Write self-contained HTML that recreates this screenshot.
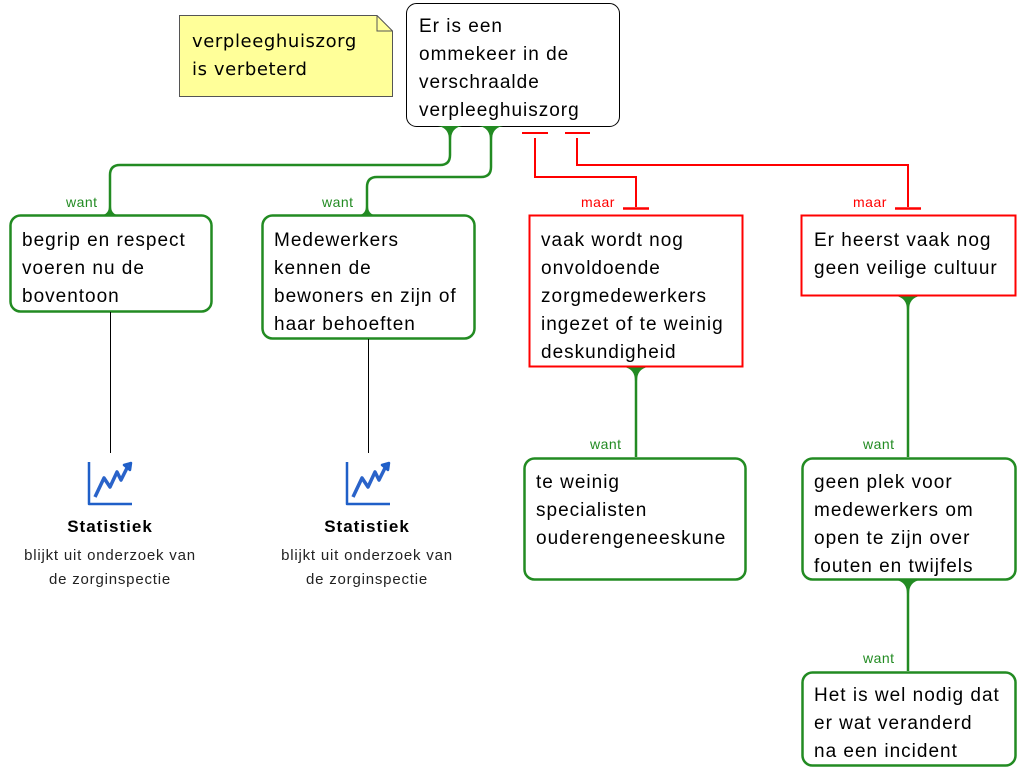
<!DOCTYPE html>
<html><head><meta charset="utf-8"><style>body{margin:0;background:#fff}</style></head><body>
<svg width="1024" height="768" xmlns="http://www.w3.org/2000/svg" font-family="Liberation Sans, sans-serif">
<rect width="1024" height="768" fill="#fff"/>
<!-- note -->
<path d="M179.5 15.5 H377 L392.5 31 V96.5 H179.5 Z" fill="#ffff99" stroke="#555" stroke-width="1"/>
<path d="M377 15.5 V31 H392.5" fill="none" stroke="#555"/>
<text font-family="Comic Sans MS, DejaVu Sans, sans-serif" font-size="18" letter-spacing="0.6" fill="#000"><tspan x="192" y="47">verpleeghuiszorg</tspan><tspan x="192" y="75">is verbeterd</tspan></text>
<!-- top box -->
<rect x="406.5" y="3.5" width="213" height="123" rx="10" fill="#fff" stroke="#000" stroke-width="1"/>
<g font-size="19" letter-spacing="1">
<text><tspan x="419" y="32">Er is een</tspan><tspan x="419" y="60">ommekeer in de</tspan><tspan x="419" y="88">verschraalde</tspan><tspan x="419" y="116">verpleeghuiszorg</tspan></text>
</g>
<!-- green connectors -->
<g fill="none" stroke="#228b22" stroke-width="2.5">
<path d="M450 128 V155 Q450 165 440 165 H120 Q110 165 110 175 V214"/>
<path d="M491 128 V167 Q491 177 481 177 H377 Q367 177 367 187 V214"/>
<path d="M636 368 V457"/>
<path d="M908 297 V457"/>
<path d="M908 581 V671"/>
</g>
<g fill="#228b22">
<path d="M438 126 H462 Q451 128 451 140 H449 Q449 128 438 126Z"/>
<path d="M479 126 H503 Q492 128 492 140 H490 Q490 128 479 126Z"/>
<path d="M624 367 H648 Q637 369 637 381 H635 Q635 369 624 367Z"/>
<path d="M896 296 H920 Q909 298 909 310 H907 Q907 298 896 296Z"/>
<path d="M896 580 H920 Q909 582 909 594 H907 Q907 582 896 580Z"/>
<path d="M103 215 H117 Q111 213 111 206 H109 Q109 213 103 215Z"/>
<path d="M360 215 H374 Q368 213 368 206 H366 Q366 213 360 215Z"/>
</g>
<!-- red connectors -->
<g fill="none" stroke="#f00" stroke-width="2">
<path d="M522 133 H548 M565 133 H590"/>
<path d="M535 138 V177 H636 V207"/>
<path d="M577 138 V165 H908 V207"/>
<path d="M623 208.5 H649 M895 208.5 H921" stroke-width="2.5"/>
</g>
<g font-size="14" letter-spacing="0.5"><text x="66" y="207" fill="#228b22">want</text><text x="322" y="207" fill="#228b22">want</text>
<text x="581" y="207" fill="#f00">maar</text><text x="853" y="207" fill="#f00">maar</text>
<text x="590" y="449" fill="#228b22">want</text><text x="863" y="449" fill="#228b22">want</text><text x="863" y="663" fill="#228b22">want</text></g>
<!-- boxes -->
<g fill="#fff" stroke="#228b22" stroke-width="2.5">
<rect x="10.5" y="215.5" width="201" height="96" rx="10"/>
<rect x="262.5" y="215.5" width="212" height="123" rx="10"/>
<rect x="524.5" y="458.5" width="221" height="121" rx="10"/>
<rect x="802.5" y="458.5" width="213" height="121" rx="10"/>
<rect x="802.5" y="672.5" width="213" height="93" rx="10"/>
</g>
<g fill="#fff" stroke="#f00" stroke-width="2">
<rect x="529.5" y="215.5" width="213" height="151"/>
<rect x="801.5" y="215.5" width="214" height="80"/>
</g>
<g font-size="19" letter-spacing="1">
<text><tspan x="22" y="246">begrip en respect</tspan><tspan x="22" y="274">voeren nu de</tspan><tspan x="22" y="302">boventoon</tspan></text>
<text><tspan x="274" y="246">Medewerkers</tspan><tspan x="274" y="274">kennen de</tspan><tspan x="274" y="302">bewoners en zijn of</tspan><tspan x="274" y="330">haar behoeften</tspan></text>
<text><tspan x="541" y="246">vaak wordt nog</tspan><tspan x="541" y="274">onvoldoende</tspan><tspan x="541" y="302">zorgmedewerkers</tspan><tspan x="541" y="330">ingezet of te weinig</tspan><tspan x="541" y="358">deskundigheid</tspan></text>
<text><tspan x="814" y="246">Er heerst vaak nog</tspan><tspan x="814" y="274">geen veilige cultuur</tspan></text>
<text><tspan x="536" y="488">te weinig</tspan><tspan x="536" y="516">specialisten</tspan><tspan x="536" y="544">ouderengeneeskune</tspan></text>
<text><tspan x="814" y="488">geen plek voor</tspan><tspan x="814" y="516">medewerkers om</tspan><tspan x="814" y="544">open te zijn over</tspan><tspan x="814" y="572">fouten en twijfels</tspan></text>
<text><tspan x="814" y="701">Het is wel nodig dat</tspan><tspan x="814" y="729">er wat veranderd</tspan><tspan x="814" y="757">na een incident</tspan></text>
</g>
<!-- thin lines -->
<path d="M110.5 312 V453 M368.5 339 V453" stroke="#000" stroke-width="1"/>
<!-- icons -->
<g id="ic" fill="none" stroke="#1f5fc8" stroke-width="2.5" stroke-linejoin="round">
<path d="M89 462 V504 H132"/>
<path d="M95 497 L104 478 L110 487 L117 472 L121 480 L128 466" stroke-width="3.5" stroke="#2a63c9"/>
<path d="M124 465 L131 463 L130 470 Z" fill="#2a63c9"/>
</g>
<use href="#ic" x="258"/>
<g text-anchor="middle">
<text x="110" y="532" font-size="17" font-weight="bold" letter-spacing="1">Statistiek</text>
<text x="110" y="560" font-size="15" letter-spacing="0.8" fill="#222">blijkt uit onderzoek van</text>
<text x="110" y="584" font-size="15" letter-spacing="0.8" fill="#222">de zorginspectie</text>
<text x="367" y="532" font-size="17" font-weight="bold" letter-spacing="1">Statistiek</text>
<text x="367" y="560" font-size="15" letter-spacing="0.8" fill="#222">blijkt uit onderzoek van</text>
<text x="367" y="584" font-size="15" letter-spacing="0.8" fill="#222">de zorginspectie</text>
</g>
</svg>
</body></html>
